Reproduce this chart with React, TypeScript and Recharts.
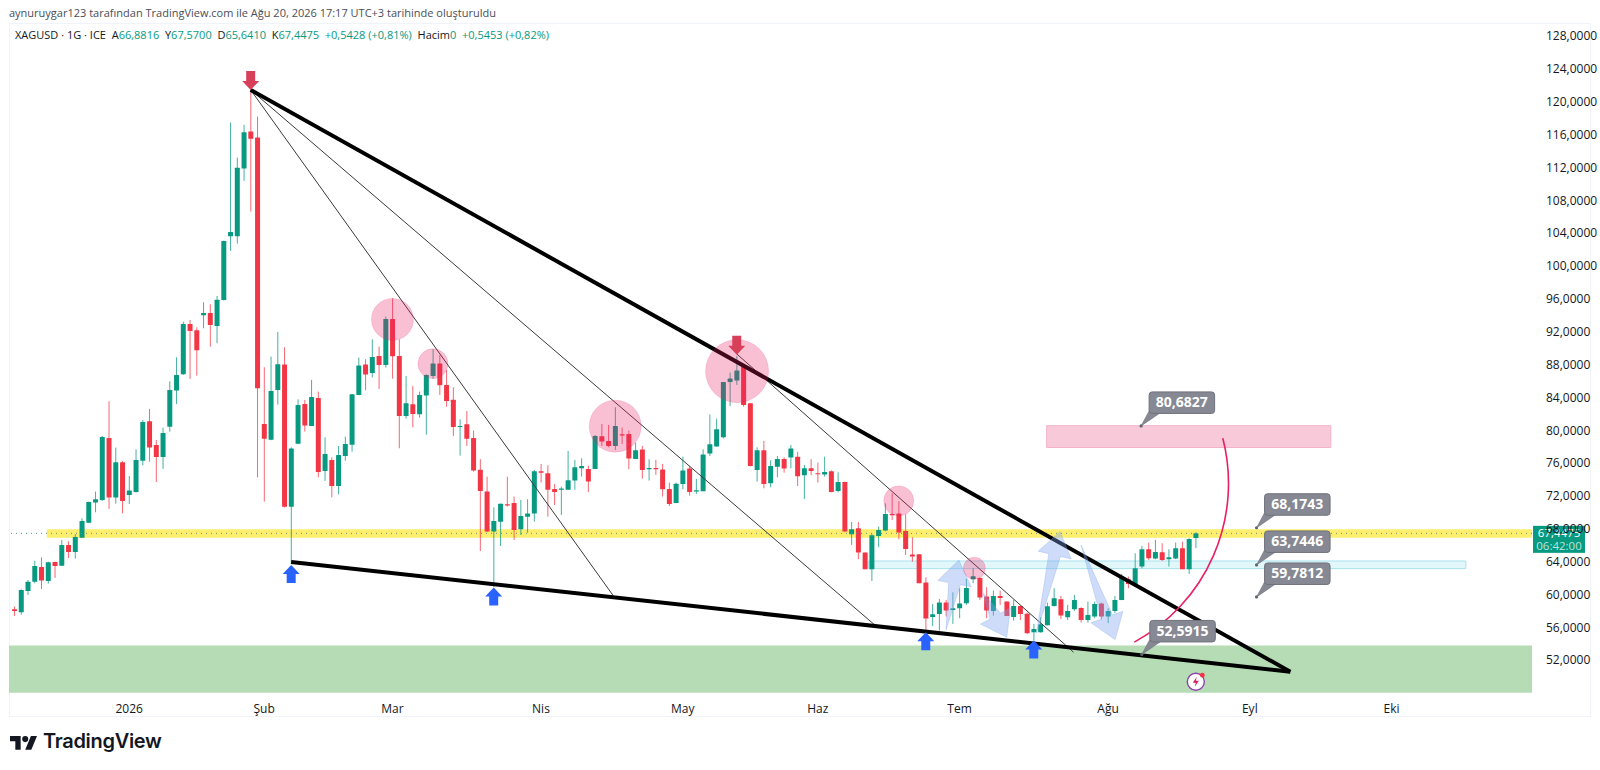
import { Bar, ComposedChart, ReferenceArea, ReferenceDot, ReferenceLine, XAxis, YAxis } from "recharts";

const UP = "#089981";
const DOWN = "#f23645";
const FONT = "'Open Sans', sans-serif";

const opens = [
  58.2, 57.83, 60.43, 61.56, 63.35, 61.65, 63.96, 63.51, 66.03, 65.18,
  66.92, 68.75, 71.19, 71.51, 79.06, 71.8, 76.1, 72.12, 72.49, 76.3,
  81.09, 78.21, 76.75, 80.44, 84.83, 86.82, 92.95, 92.18, 94.0, 94.29,
  92.71, 95.88, 103.63, 103.63, 111.87, 116.38, 115.65, 80.77, 78.86, 84.91,
  88.0, 70.7, 78.37, 83.21, 80.53, 83.94, 75.05, 76.39, 73.22, 76.87,
  78.25, 84.3, 88.0, 86.98, 89.05, 87.96, 93.56, 89.05, 81.74, 83.17,
  81.95, 84.22, 86.62, 88.12, 85.52, 83.73, 80.41, 80.73, 79.06, 75.2,
  72.53, 67.66, 68.87, 71.0, 71.15, 67.94, 69.48, 69.85, 75.0, 74.76,
  72.85, 72.77, 72.77, 73.87, 75.37, 75.29, 75.29, 79.27, 78.7, 78.09,
  79.51, 79.55, 76.51, 77.65, 75.25, 75.41, 75.21, 72.85, 71.15, 73.46,
  75.33, 72.53, 72.57, 77.16, 78.01, 79.15, 85.89, 86.05, 87.96, 83.29,
  75.17, 77.56, 73.54, 75.57, 76.51, 76.67, 76.79, 74.52, 75.37, 74.76,
  74.6, 75.0, 72.61, 73.71, 67.33, 68.06, 65.1, 63.07, 67.13, 67.78,
  69.81, 69.85, 67.74, 64.86, 64.9, 61.45, 57.27, 57.63, 59.01, 58.12,
  58.32, 58.93, 61.86, 62.02, 59.75, 58.0, 59.83, 59.14, 57.27, 58.61,
  57.67, 55.4, 55.4, 56.25, 58.61, 59.42, 57.23, 58.2, 58.37, 56.9,
  57.31, 58.89, 57.31, 58.0, 59.34, 61.85, 61.24, 63.4, 65.51, 64.37,
  65.14, 64.29, 64.37, 65.63, 63.07, 66.88,
];

const closes = [
  58.0, 60.55, 61.56, 63.47, 61.69, 63.92, 63.47, 66.03, 65.18, 67.0,
  68.95, 71.27, 71.59, 79.18, 71.8, 76.1, 71.39, 72.65, 76.38, 81.01,
  77.89, 76.75, 79.67, 84.91, 86.74, 92.95, 92.1, 89.74, 94.29, 92.83,
  95.91, 103.06, 104.16, 111.96, 116.3, 115.49, 85.11, 78.98, 84.79, 88.04,
  70.7, 77.77, 83.08, 80.57, 84.06, 74.92, 77.12, 73.22, 77.0, 78.33,
  84.38, 87.88, 86.78, 88.93, 87.96, 93.56, 89.01, 81.74, 83.29, 81.99,
  84.3, 86.74, 88.12, 85.48, 83.57, 80.41, 80.53, 78.98, 75.09, 72.61,
  67.66, 68.96, 71.05, 70.85, 67.86, 69.57, 69.85, 75.0, 74.84, 72.77,
  72.49, 72.9, 73.91, 75.5, 75.66, 73.75, 79.31, 78.62, 78.09, 80.53,
  79.35, 76.55, 77.57, 75.17, 75.41, 75.25, 72.81, 71.03, 73.5, 75.09,
  72.49, 72.69, 77.04, 78.3, 80.12, 85.89, 86.3, 87.27, 83.08, 75.66,
  77.56, 73.46, 75.66, 76.51, 75.33, 77.77, 74.4, 75.37, 75.05, 74.64,
  74.92, 72.49, 73.71, 67.66, 67.94, 65.1, 63.07, 67.21, 67.86, 69.81,
  69.65, 67.55, 65.55, 64.62, 61.37, 57.07, 57.59, 59.01, 58.04, 58.32,
  58.89, 60.8, 62.22, 59.62, 58.04, 59.83, 59.58, 57.39, 58.61, 57.63,
  55.28, 55.81, 56.38, 58.57, 59.54, 57.43, 58.0, 59.34, 56.88, 57.51,
  58.85, 57.31, 58.0, 59.34, 62.18, 61.28, 63.19, 65.51, 64.41, 65.18,
  64.21, 64.53, 65.63, 63.07, 66.77, 67.45,
];

const highs = [
  58.52, 60.63, 61.77, 64.12, 64.53, 64.0, 64.0, 66.64, 66.48, 67.33,
  69.28, 71.31, 72.53, 79.3, 83.53, 77.89, 76.26, 74.43, 77.68, 81.26,
  82.6, 78.82, 80.32, 85.97, 88.89, 93.23, 93.44, 92.54, 95.59, 95.35,
  96.36, 103.1, 117.48, 113.21, 117.19, 121.45, 118.2, 87.67, 88.97, 91.98,
  90.11, 77.93, 83.77, 83.69, 86.13, 84.71, 79.15, 76.71, 78.09, 79.23,
  84.4, 88.85, 88.65, 91.08, 90.19, 93.84, 96.08, 91.08, 86.62, 85.4,
  84.71, 86.82, 89.87, 89.17, 87.35, 85.24, 81.34, 82.35, 79.96, 76.47,
  74.35, 70.62, 71.07, 74.36, 71.92, 71.52, 71.6, 75.17, 75.9, 75.74,
  73.46, 73.14, 77.48, 76.39, 76.59, 75.7, 79.43, 80.77, 80.65, 82.8,
  80.33, 79.96, 78.5, 78.09, 76.47, 76.39, 75.9, 73.63, 73.63, 76.79,
  75.66, 74.07, 77.69, 81.91, 81.42, 85.89, 87.02, 89.05, 88.0, 83.3,
  77.93, 78.7, 76.34, 76.87, 76.71, 78.21, 77.36, 75.78, 76.47, 76.06,
  76.79, 75.1, 74.88, 73.75, 68.83, 68.83, 65.1, 67.37, 68.26, 71.1,
  72.33, 71.35, 69.77, 66.97, 64.9, 62.1, 58.85, 59.46, 59.34, 60.27,
  60.76, 61.9, 63.2, 62.1, 60.88, 60.48, 60.48, 59.14, 59.34, 58.6,
  57.8, 56.42, 57.23, 59.01, 60.76, 59.83, 58.73, 59.95, 58.45, 59.14,
  59.14, 59.01, 58.32, 59.83, 62.5, 62.18, 65.02, 65.91, 66.32, 66.64,
  66.24, 65.51, 66.32, 66.44, 66.85, 67.57,
];

const lows = [
  57.38, 57.55, 59.94, 61.36, 60.67, 61.32, 62.01, 63.47, 64.45, 64.37,
  66.92, 68.71, 70.01, 71.4, 70.41, 71.06, 69.89, 71.02, 72.4, 75.73,
  76.18, 73.7, 75.29, 79.83, 83.2, 86.74, 86.25, 86.66, 92.42, 90.19,
  90.6, 95.8, 101.84, 102.74, 110.37, 106.64, 74.27, 71.31, 78.8, 83.13,
  70.6, 63.7, 78.3, 79.84, 80.5, 74.27, 73.83, 71.84, 72.2, 76.3,
  77.4, 84.27, 84.87, 86.45, 85.03, 87.63, 86.29, 77.81, 81.42, 80.36,
  81.54, 79.47, 86.29, 84.3, 82.88, 79.31, 76.91, 78.09, 74.96, 65.3,
  67.6, 60.9, 65.91, 70.7, 66.64, 67.25, 67.54, 68.88, 73.63, 69.48,
  70.9, 69.69, 72.77, 72.77, 74.36, 72.45, 75.29, 78.09, 77.93, 77.6,
  78.34, 75.25, 76.51, 74.11, 73.87, 74.56, 71.92, 70.78, 71.11, 72.81,
  72.04, 72.25, 72.57, 76.87, 78.01, 78.99, 82.96, 85.52, 82.88, 75.6,
  73.75, 72.93, 73.06, 74.27, 74.84, 75.37, 73.22, 71.63, 74.52, 73.62,
  74.36, 72.45, 72.45, 67.6, 66.03, 64.29, 63.07, 61.65, 65.75, 67.7,
  69.08, 66.72, 64.82, 64.0, 61.37, 55.36, 56.17, 55.6, 57.31, 56.42,
  57.11, 58.73, 61.37, 59.34, 57.11, 57.43, 58.73, 57.39, 56.82, 56.9,
  55.2, 54.39, 55.36, 56.25, 58.53, 57.03, 56.9, 58.0, 56.58, 56.58,
  57.11, 56.98, 56.5, 57.71, 59.3, 60.76, 61.16, 63.19, 64.21, 64.29,
  64.08, 63.4, 64.29, 63.07, 62.5, 65.64,
];

const priceTicks = [52, 56, 60, 64, 68, 72, 76, 80, 84, 88, 92, 96, 100, 104, 108, 112, 116, 120, 124, 128];
const monthTicks = [18, 38, 57, 79, 100, 120, 141, 163, 184, 205];
const monthLabels = ["2026", "Şub", "Mar", "Nis", "May", "Haz", "Tem", "Ağu", "Eyl", "Eki"];

// x in bar numbers, y in price
const thickLines = [
  [36, 121.45, 190, 50.6],
  [42, 63.97, 190, 50.6],
];
const thinLines = [
  [36, 121.45, 89.7, 59.86],
  [36, 121.45, 128.5, 56.25],
  [108, 89.3, 157.9, 52.97],
];
const circles = [
  [57, 93.5, 21],
  [63, 88.1, 15],
  [90, 80.5, 26],
  [108.05, 87.2, 31.5],
  [132, 71.4, 15],
  [143.2, 63.2, 11],
];
const downMarks = [
  [36, 121.45],
  [108, 89.2],
];
const upMarks = [
  [42, 63.6],
  [72, 60.86],
  [136, 55.4],
  [152, 54.4],
];
const fatArrows = [
  [139, 55.68, 140.9, 64.2],
  [144.5, 60.15, 148, 54.8],
  [152.4, 55.3, 155.9, 67.65],
  [159, 66.03, 164.05, 54.5],
];
const callouts = [
  [167.9, 80.53, "80,6827"],
  [185, 68.13, "68,1743"],
  [185, 63.6, "63,7446"],
  [185, 59.7, "59,7812"],
  [168, 52.7, "52,5915"],
];

const candles = opens.map((open, i) => ({
  bar: i + 1,
  open,
  close: closes[i],
  high: highs[i],
  low: lows[i],
  range: [lows[i], highs[i]],
}));

function Candle(props: any) {
  const { x, y, width, height, payload } = props;
  const { open, close, high, low } = payload;
  const color = close >= open ? UP : DOWN;
  const perUnit = height / (high - low);
  const top = y + (high - Math.max(open, close)) * perUnit;
  const bodyH = Math.max(Math.abs(open - close) * perUnit, 1);
  const mid = x + width / 2;
  return (
    <g>
      <line x1={mid} x2={mid} y1={y} y2={y + height} stroke={color} strokeWidth={1} opacity={0.75} />
      <rect x={x} y={top} width={width} height={bodyH} fill={color} rx={0.5} />
    </g>
  );
}

function FatArrow(props: any) {
  const { x1, y1, x2, y2 } = props;
  const len = Math.hypot(x2 - x1, y2 - y1);
  const ux = (x2 - x1) / len;
  const uy = (y2 - y1) / len;
  const nx = -uy;
  const ny = ux;
  const neck = { x: x2 - ux * 24, y: y2 - uy * 24 };
  const at = (w: number) => `${neck.x + nx * w},${neck.y + ny * w}`;
  const pts = [`${x1},${y1}`, at(6), at(17), `${x2},${y2}`, at(-17), at(-6)].join(" ");
  return <polygon points={pts} fill="#7da2ee" fillOpacity={0.38} stroke="#7da2ee" strokeOpacity={0.3} />;
}

function SwingCurve(props: any) {
  const { x1, y1, x2, y2 } = props;
  return <path d={`M${x1},${y1} A181,181 0 0 0 ${x2},${y2}`} fill="none" stroke="#e91e63" strokeWidth={1.6} />;
}

function DownMark({ cx, cy }: any) {
  return (
    <polygon
      points={`${cx},${cy} ${cx - 8.5},${cy - 9} ${cx - 4.5},${cy - 9} ${cx - 4.5},${cy - 19} ${cx + 4.5},${cy - 19} ${cx + 4.5},${cy - 9} ${cx + 8.5},${cy - 9}`}
      fill="#d8405a"
    />
  );
}

function UpMark({ cx, cy }: any) {
  return (
    <polygon
      points={`${cx},${cy} ${cx - 8.5},${cy + 9} ${cx - 4.5},${cy + 9} ${cx - 4.5},${cy + 18} ${cx + 4.5},${cy + 18} ${cx + 4.5},${cy + 9} ${cx + 8.5},${cy + 9}`}
      fill="#2962ff"
    />
  );
}

function Callout({ cx, cy, text }: any) {
  return (
    <g>
      <circle cx={cx} cy={cy} r={1.6} fill="#5d606b" />
      <polygon points={`${cx},${cy} ${cx + 8},${cy - 15} ${cx + 19},${cy - 13}`} fill="#868993" stroke="#6f727c" strokeWidth={0.6} />
      <rect x={cx + 8} y={cy - 34} width={65.5} height={21.5} rx={3} fill="#868993" stroke="#6f727c" />
      <text x={cx + 40.7} y={cy - 18.5} textAnchor="middle" fill="#fff" fontFamily={FONT} fontWeight={700} fontSize={14}>
        {text}
      </text>
    </g>
  );
}

function PriceTag({ cx, cy }: any) {
  return (
    <g>
      <rect x={cx + 1} y={cy - 7.5} width={52} height={27} fill={UP} />
      <text x={cx + 27} y={cy + 4} textAnchor="middle" fill="#fff" fontFamily={FONT} fontSize={11.5}>
        67,4475
      </text>
      <text x={cx + 27} y={cy + 17} textAnchor="middle" fill="#b9e6dc" fontFamily={FONT} fontSize={11.5}>
        06:42:00
      </text>
    </g>
  );
}

function BoltBadge({ cx, cy }: any) {
  return (
    <g>
      <circle cx={cx} cy={cy} r={8.5} fill="#fff" stroke="#8e3fb0" strokeWidth={1.4} />
      <polygon points={`${cx + 1},${cy - 5} ${cx - 3},${cy + 1} ${cx},${cy + 1} ${cx - 1},${cy + 5} ${cx + 3},${cy - 1} ${cx},${cy - 1}`} fill="#d81b60" />
      <circle cx={cx + 6.5} cy={cy - 6.5} r={2.4} fill="#f23645" />
    </g>
  );
}

function Legend() {
  const v = { color: UP };
  return (
    <div style={{ position: "absolute", left: 15, top: 27, font: `11px ${FONT}`, color: "#131722", whiteSpace: "pre" }}>
      XAGUSD · 1G · ICE{"  "}A<span style={v}>66,8816</span>{"  "}Y<span style={v}>67,5700</span>{"  "}D<span style={v}>65,6410</span>{"  "}K
      <span style={v}>67,4475</span>
      {"  "}
      <span style={v}>+0,5428 (+0,81%)</span>
      {"  "}Hacim<span style={v}>0</span>
      {"  "}
      <span style={v}>+0,5453 (+0,82%)</span>
    </div>
  );
}

export default function App() {
  return (
    <div style={{ position: "absolute", left: 0, top: 0, width: 1600, height: 770, background: "#fff", overflow: "hidden" }}>
      <div style={{ position: "absolute", left: 9, top: 23, width: 1582, height: 694, border: "1px solid #f0f3fa", boxSizing: "border-box" }} />
      <div style={{ position: "absolute", left: 9, top: 5, font: `11px ${FONT}`, color: "#4a4e59", whiteSpace: "pre" }}>
        aynuruygar123 tarafından TradingView.com ile Ağu 20, 2026 17:17 UTC+3 tarihinde oluşturuldu
      </div>
      <ComposedChart
        width={1600}
        height={770}
        data={candles}
        margin={{ top: 23, right: 0, bottom: 0, left: 9 }}
        style={{ position: "absolute", left: 0, top: 0 }}
      >
        <XAxis
          dataKey="bar"
          type="number"
          domain={[0.2, 225.8]}
          allowDataOverflow
          ticks={monthTicks}
          tickFormatter={(v: number) => monthLabels[monthTicks.indexOf(v)]}
          height={77.3}
          axisLine={false}
          tickLine={false}
          tickMargin={6}
          interval={0}
          tick={{ fill: "#131722", fontSize: 12, fontFamily: FONT }}
        />
        <YAxis
          orientation="right"
          domain={[48.04, 129.6]}
          allowDataOverflow
          ticks={priceTicks}
          tickFormatter={(v: number) => `${v},0000`}
          width={68}
          axisLine={false}
          tickLine={false}
          tickMargin={8}
          interval={0}
          tick={{ fill: "#131722", fontSize: 12, fontFamily: FONT }}
        />
        <ReferenceArea y1={48.04} y2={53.8} fill="#b5dcb4" fillOpacity={1} stroke="none" />
        <ReferenceArea x1={5.8} x2={225.8} y1={66.9} y2={67.94} fill="#fdee6e" fillOpacity={1} stroke="none" />
        <ReferenceArea x1={127.5} x2={216} y1={63.15} y2={64.08} fill="#dff6fa" fillOpacity={0.9} stroke="#a8e2ec" />
        <ReferenceArea x1={153.9} x2={196} y1={77.9} y2={80.56} fill="#f8c9d9" fillOpacity={1} stroke="#f3b3ca" />
        <Bar dataKey="range" barSize={5} shape={Candle} isAnimationActive={false} />
        <ReferenceLine y={67.4475} stroke="#5f8f82" strokeDasharray="1 4" />
        {thinLines.map(([a, b, c, d], i) => (
          <ReferenceLine
            key={`thin${i}`}
            segment={[{ x: a, y: b }, { x: c, y: d }]}
            stroke="#3a3a3a"
            strokeWidth={1}
            ifOverflow="visible"
          />
        ))}
        {thickLines.map(([a, b, c, d], i) => (
          <ReferenceLine
            key={`thick${i}`}
            segment={[{ x: a, y: b }, { x: c, y: d }]}
            stroke="#000"
            strokeWidth={4}
            ifOverflow="visible"
          />
        ))}
        {fatArrows.map(([a, b, c, d], i) => (
          <ReferenceLine key={`fat${i}`} segment={[{ x: a, y: b }, { x: c, y: d }]} shape={FatArrow} ifOverflow="visible" />
        ))}
        <ReferenceLine segment={[{ x: 166.9, y: 54.2 }, { x: 180, y: 79.03 }]} shape={SwingCurve} ifOverflow="visible" />
        {circles.map(([x, y, r], i) => (
          <ReferenceDot key={`c${i}`} x={x} y={y} r={r} fill="#e91e63" fillOpacity={0.28} stroke="#e91e63" strokeOpacity={0.15} ifOverflow="visible" />
        ))}
        {downMarks.map(([x, y], i) => (
          <ReferenceDot key={`d${i}`} x={x} y={y} shape={DownMark} ifOverflow="visible" />
        ))}
        {upMarks.map(([x, y], i) => (
          <ReferenceDot key={`u${i}`} x={x} y={y} shape={UpMark} ifOverflow="visible" />
        ))}
        {callouts.map(([x, y, text], i) => (
          <ReferenceDot key={`t${i}`} x={x as number} y={y as number} shape={(p: any) => <Callout {...p} text={text} />} ifOverflow="visible" />
        ))}
        <ReferenceDot x={176} y={49.38} shape={BoltBadge} ifOverflow="visible" />
        <ReferenceDot x={225.8} y={67.4475} shape={PriceTag} ifOverflow="visible" />
      </ComposedChart>
      <Legend />
      <svg style={{ position: "absolute", left: 10, top: 733 }} width={27.4} height={21.3} viewBox="0 0 36 28">
        <path d="M14 22H7V11H0V4h14v18zM28 22h-8l7.5-18h8L28 22z" fill="#131722" />
        <circle cx={20} cy={8} r={4} fill="#131722" />
      </svg>
      <div style={{ position: "absolute", left: 43, top: 729, font: `600 20px Inter, sans-serif`, color: "#131722", letterSpacing: -0.3 }}>
        TradingView
      </div>
    </div>
  );
}
